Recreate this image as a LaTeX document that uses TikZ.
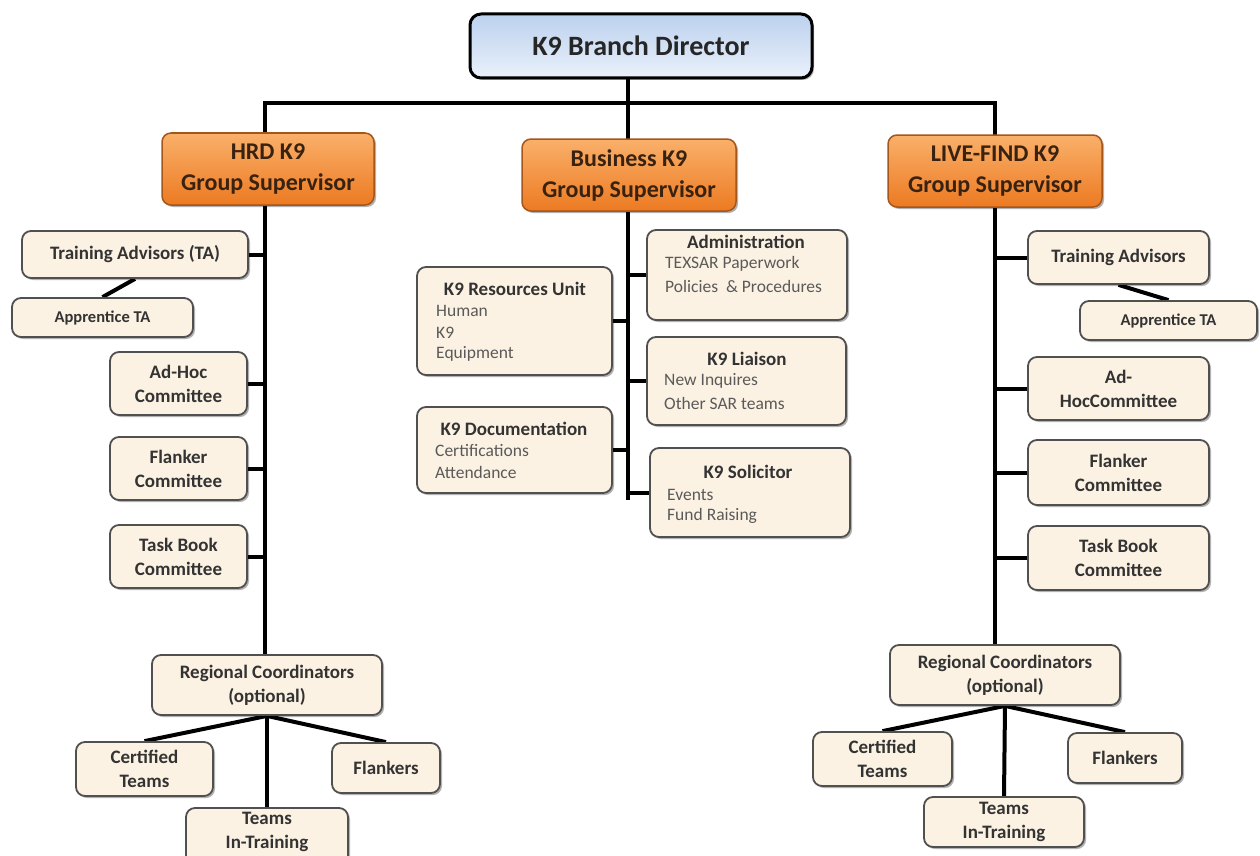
\documentclass[tikz,border=0pt]{standalone}
\usepackage{fontspec}
\setmainfont{Carlito}
\usetikzlibrary{fit,shadows,backgrounds}
\definecolor{cream}{HTML}{FCF2E3}
\definecolor{boxline}{HTML}{505050}
\definecolor{txt}{HTML}{333333}
\definecolor{subtxt}{HTML}{5A5A5A}
\definecolor{orTop}{HTML}{FAB06A}
\definecolor{orBot}{HTML}{EC7A22}
\definecolor{orLine}{HTML}{A5561A}
\definecolor{orTxt}{HTML}{3A2210}
\definecolor{blTop}{HTML}{BCD1EE}
\definecolor{blBot}{HTML}{EAF1FB}
\begin{document}
\begin{tikzpicture}[x=1pt,y=-1pt,
  shad/.style={drop shadow={shadow xshift=2pt,shadow yshift=-2pt,opacity=0.3,fill=black}},
  box/.style={rounded corners=9pt, draw=boxline, line width=1.8pt, fill=cream, inner sep=0pt, shad,
    text=txt, font=\fontsize{19}{24}\selectfont\bfseries, align=center},
  smallbox/.style={box, font=\fontsize{16.5}{18}\selectfont\bfseries},
  orbox/.style={rounded corners=9pt, draw=orLine, line width=1.5pt, top color=orTop, bottom color=orBot,
    inner sep=0pt, shad, text=orTxt, font=\fontsize{24}{31}\selectfont\bfseries, align=center},
  dirbox/.style={rounded corners=11pt, draw=black, line width=3pt, top color=blTop, bottom color=blBot,
    inner sep=0pt, shad, text=black!85, font=\fontsize{28}{32}\selectfont\bfseries},
  conn/.style={line width=4pt, black},
  title/.style={inner sep=0pt, text=txt, font=\fontsize{19}{24}\selectfont\bfseries},
  item/.style={inner sep=0pt, anchor=west, text=subtxt, font=\fontsize{17.5}{21}\selectfont}
]
\useasboundingbox (0,0) rectangle (1260,856);
\clip (0,0) rectangle (1260,856);

% top
\node[dirbox, fit={(470,14) (812,78)}] (dir) {};
\node[inner sep=0pt, text=black!85, font=\fontsize{28}{32}\selectfont\bfseries] (dirt) at (dir.center) {K9 Branch Director};

\node[orbox, fit={(162,133) (374,205)}] (hrd) {};
\node[inner sep=0pt, text=orTxt, font=\fontsize{24}{31}\selectfont\bfseries, align=center] (hrdt) at (hrd.center) {HRD K9\\Group Supervisor};
\node[orbox, fit={(522,139) (736,211)}] (bus) {};
\node[inner sep=0pt, text=orTxt, font=\fontsize{24}{31}\selectfont\bfseries, align=center] (bust) at (bus.center) {Business K9\\Group Supervisor};
\node[orbox, fit={(888,135) (1102,207)}] (lf) {};
\node[inner sep=0pt, text=orTxt, font=\fontsize{24}{31}\selectfont\bfseries, align=center] (lft) at (lf.center) {LIVE-FIND K9\\Group Supervisor};

% left column
\node[box, fit={(22,231) (248,278)}] (ta1) {};
\node[title] (ta1t) at (ta1.center) {Training Advisors (TA)};
\node[smallbox, fit={(12,298) (193,337)}] (ap1) {};
\node[title, font=\fontsize{16.5}{18}\selectfont\bfseries] (ap1t) at (ap1.center) {Apprentice TA};
\node[box, fit={(110,352) (247,415)}] (ah1) {};
\node[title, align=center] (ah1t) at (ah1.center) {Ad-Hoc\\Committee};
\node[box, fit={(110,437) (247,500)}] (fc1) {};
\node[title, align=center] (fc1t) at (fc1.center) {Flanker\\Committee};
\node[box, fit={(110,525) (247,588)}] (tb1) {};
\node[title, align=center] (tb1t) at (tb1.center) {Task Book\\Committee};
\node[box, fit={(152,655) (382,715)}] (rc1) {};
\node[title, align=center] (rc1t) at (rc1.center) {Regional Coordinators\\(optional)};
\node[box, fit={(76,742) (213,796)}] (ct1) {};
\node[title, align=center] (ct1t) at (ct1.center) {Certified\\Teams};
\node[box, fit={(332,743) (440,793)}] (fl1) {};
\node[title] (fl1t) at (fl1.center) {Flankers};
\node[box, fit={(186,808) (348,868)}] (ti1) {};
\node[title, align=center] (ti1t) at (267,832) {Teams\\In-Training};

% right column
\node[box, fit={(1028,231) (1209,284)}] (ta2) {};
\node[title] (ta2t) at (ta2.center) {Training Advisors};
\node[smallbox, fit={(1080,301) (1257,340)}] (ap2) {};
\node[title, font=\fontsize{16.5}{18}\selectfont\bfseries] (ap2t) at (ap2.center) {Apprentice TA};
\node[box, fit={(1028,357) (1209,420)}] (ah2) {};
\node[title, align=center] (ah2t) at (ah2.center) {Ad-\\HocCommittee};
\node[box, fit={(1028,440) (1209,505)}] (fc2) {};
\node[title, align=center] (fc2t) at (fc2.center) {Flanker\\Committee};
\node[box, fit={(1028,526) (1209,590)}] (tb2) {};
\node[title, align=center] (tb2t) at (tb2.center) {Task Book\\Committee};
\node[box, fit={(890,645) (1120,705)}] (rc2) {};
\node[title, align=center] (rc2t) at (rc2.center) {Regional Coordinators\\(optional)};
\node[box, fit={(813,732) (952,786)}] (ct2) {};
\node[title, align=center] (ct2t) at (ct2.center) {Certified\\Teams};
\node[box, fit={(1068,733) (1182,783)}] (fl2) {};
\node[title] (fl2t) at (fl2.center) {Flankers};
\node[box, fit={(924,797) (1084,847)}] (ti2) {};
\node[title, align=center] (ti2t) at (ti2.center) {Teams\\In-Training};

% middle
\node[box, fit={(647,230) (847,320)}] (adm) {};
\node[title] (admt) at (746,242) {Administration};
\node[item] (adm1) at (665,264) {TEXSAR Paperwork};
\node[item] (adm2) at (665,286) {Policies \ \&\ Procedures};

\node[box, fit={(417,267) (612,375)}] (res) {};
\node[title] (rest) at (515,289) {K9 Resources Unit};
\node[item] (res1) at (436,311) {Human};
\node[item] (res2) at (436,333) {K9};
\node[item] (res3) at (436,354) {Equipment};

\node[box, fit={(647,337) (846,425)}] (lia) {};
\node[title] (liat) at (747,359) {K9 Liaison};
\node[item] (lia1) at (664,381) {New Inquires};
\node[item] (lia2) at (664,403) {Other SAR teams};

\node[box, fit={(417,407) (612,493)}] (doc) {};
\node[title] (doct) at (514,429) {K9 Documentation};
\node[item] (doc1) at (435,451) {Certifications};
\node[item] (doc2) at (435,472) {Attendance};

\node[box, fit={(650,448) (850,537)}] (sol) {};
\node[title] (solt) at (748,472) {K9 Solicitor};
\node[item] (sol1) at (667,495) {Events};
\node[item] (sol2) at (667,516) {Fund Raising};

% connectors
\coordinate (busL) at (265,103);
\coordinate (busR) at (995,103);
\coordinate (busM) at (628,103);
\coordinate (midEnd) at (628,500);
\begin{scope}[on background layer]
\draw[conn] (dir.south -| busM) -- (busM);
\draw[conn, line cap=rect] (busL) -- (busR);
\draw[conn] (busL) -- (busL |- rc1.north);
\draw[conn] (busR) -- (busR |- rc2.north);
\draw[conn] (busM) -- (midEnd);
\foreach \n in {ta1,ah1,fc1,tb1}{\draw[conn] (\n.east) -- (\n.east -| busL);}
\foreach \n in {ta2,ah2,fc2,tb2}{\draw[conn] (\n.west) -- (\n.west -| busR);}
\foreach \n in {adm,lia,sol}{\draw[conn] (\n.west) -- (\n.west -| busM);}
\foreach \n in {res,doc}{\draw[conn] (\n.east) -- (\n.east -| busM);}
\draw[conn] (ta1.south) -- (ap1.north);
\draw[conn] (ta2.south) -- (ap2.north);
\draw[conn] (rc1.south) -- (ct1.north);
\draw[conn] (rc1.south) -- (fl1.north);
\draw[conn] (rc1.south) -- (ti1.north);
\draw[conn] (rc2.south) -- (ct2.north);
\draw[conn] (rc2.south) -- (fl2.north);
\draw[conn] (rc2.south) -- (ti2.north);
\end{scope}
\end{tikzpicture}
\end{document}
